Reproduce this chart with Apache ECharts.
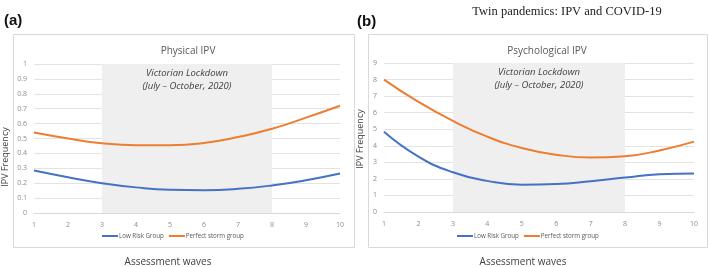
<!DOCTYPE html>
<html>
<head>
<meta charset="utf-8">
<script src="https://cdn.jsdelivr.net/npm/echarts@6/dist/echarts.min.js"></script>
<style>
  html, body { margin: 0; padding: 0; background: #fff; }
  #main { width: 709px; height: 267px; }
</style>
</head>
<body>
<div id="main"></div>
<script>
var waves = ['1', '2', '3', '4', '5', '6', '7', '8', '9', '10'];
var seriesNames = ['Low Risk Group', 'Perfect storm group'];

// (a) Physical IPV
var physLow = [0.285, 0.24, 0.20, 0.172, 0.156, 0.153, 0.162, 0.185, 0.22, 0.265];
var physStorm = [0.54, 0.50, 0.468, 0.455, 0.455, 0.47, 0.51, 0.565, 0.64, 0.72];

// (b) Psychological IPV
var psyLow = [4.85, 3.35, 2.4, 1.88, 1.65, 1.69, 1.86, 2.08, 2.28, 2.32];
var psyStorm = [8.0, 6.65, 5.5, 4.55, 3.87, 3.46, 3.29, 3.37, 3.72, 4.25];

var lockFrom = '3';
var lockTo = '8';
var lockText = 'Victorian Lockdown\n(July \u2013 October, 2020)';

var blue = '#4472c4';
var orange = '#ed7d31';
var gridColor = '#e3e3e3';
var labelColor = '#8c8c8c';

var chart = echarts.init(document.getElementById('main'));

function makeX(idx) {
    return {
        type: 'category',
        gridIndex: idx,
        data: waves,
        boundaryGap: false,
        axisLine: { lineStyle: { color: '#d9d9d9' } },
        axisTick: { show: false },
        axisLabel: { color: labelColor, fontSize: 7, margin: 8, fontFamily: 'Open Sans' },
        splitLine: { show: false }
    };
}

function makeY(idx, max, step) {
    return {
        type: 'value',
        gridIndex: idx,
        min: 0,
        max: max,
        interval: step,
        axisLine: { show: false },
        axisTick: { show: false },
        axisLabel: { color: labelColor, fontSize: 7, margin: 7, fontFamily: 'Open Sans' },
        splitLine: { lineStyle: { color: gridColor, width: 1 } }
    };
}

function makeLine(name, idx, data, color, withBand) {
    var s = {
        name: name,
        type: 'line',
        xAxisIndex: idx,
        yAxisIndex: idx,
        data: data,
        smooth: 0.5,
        showSymbol: false,
        lineStyle: { color: color, width: 2 },
        itemStyle: { color: color },
        z: 3
    };
    if (withBand) {
        s.markArea = {
            silent: true,
            itemStyle: { color: '#efefef' },
            label: {
                show: true,
                position: 'insideTop',
                distance: 3,
                formatter: lockText,
                fontStyle: 'italic',
                fontSize: 9.5,
                lineHeight: 13,
                color: '#404040',
                fontFamily: 'Open Sans'
            },
            data: [[{ xAxis: lockFrom }, { xAxis: lockTo }]]
        };
    }
    return s;
}

function makeLegend(left) {
    return {
        left: left,
        top: 233,
        padding: 0,
        data: seriesNames,
        icon: 'rect',
        itemWidth: 16,
        itemHeight: 2,
        itemGap: 5,
        textStyle: { fontSize: 6.2, color: '#595959', padding: [0, 0, 0, -4], fontFamily: 'Open Sans' }
    };
}

var option = {
    animation: false,
    title: [
        { text: 'Physical IPV', left: 183, top: 41, textAlign: 'center',
          textStyle: { fontSize: 10, fontWeight: 'normal', color: '#595959', fontFamily: 'Open Sans' } },
        { text: 'Psychological IPV', left: 542, top: 41, textAlign: 'center',
          textStyle: { fontSize: 10, fontWeight: 'normal', color: '#595959', fontFamily: 'Open Sans' } }
    ],
    legend: [makeLegend(102), makeLegend(457)],
    grid: [
        { left: 34, right: 369, top: 64, bottom: 54 },
        { left: 384, right: 15, top: 63, bottom: 55 }
    ],
    xAxis: [makeX(0), makeX(1)],
    yAxis: [makeY(0, 1, 0.1), makeY(1, 9, 1)],
    series: [
        makeLine(seriesNames[0], 0, physLow, blue, true),
        makeLine(seriesNames[1], 0, physStorm, orange, false),
        makeLine(seriesNames[0], 1, psyLow, blue, true),
        makeLine(seriesNames[1], 1, psyStorm, orange, false)
    ],
    graphic: [
        { type: 'rect', shape: { x: 13.5, y: 34.5, width: 341, height: 213 },
          style: { fill: 'none', stroke: '#d9d9d9', lineWidth: 1 }, z: -10 },
        { type: 'rect', shape: { x: 368.5, y: 34.5, width: 339, height: 213 },
          style: { fill: 'none', stroke: '#d9d9d9', lineWidth: 1 }, z: -10 },
        { type: 'text', x: 4, y: 21,
          style: { text: '(a)', fontSize: 15, fontWeight: 'bold', fill: '#111', fontFamily: 'Liberation Sans',
                   textVerticalAlign: 'middle' } },
        { type: 'text', x: 357, y: 22,
          style: { text: '(b)', fontSize: 15, fontWeight: 'bold', fill: '#111', fontFamily: 'Liberation Sans',
                   textVerticalAlign: 'middle' } },
        { type: 'text', x: 567, y: 12,
          style: { text: 'Twin pandemics: IPV and COVID-19', fontSize: 12.5, fill: '#222',
                   fontFamily: 'Liberation Serif', textAlign: 'center', textVerticalAlign: 'middle' } },
        { type: 'text', x: 5, y: 157, rotation: Math.PI / 2,
          style: { text: 'IPV Frequency', fontSize: 9, fill: '#404040', fontFamily: 'Open Sans',
                   textAlign: 'center', textVerticalAlign: 'middle' } },
        { type: 'text', x: 360, y: 139, rotation: Math.PI / 2,
          style: { text: 'IPV Frequency', fontSize: 9, fill: '#404040', fontFamily: 'Open Sans',
                   textAlign: 'center', textVerticalAlign: 'middle' } },
        { type: 'text', x: 168, y: 262,
          style: { text: 'Assessment waves', fontSize: 10, fill: '#404040', fontFamily: 'Open Sans',
                   textAlign: 'center', textVerticalAlign: 'middle' } },
        { type: 'text', x: 523, y: 262,
          style: { text: 'Assessment waves', fontSize: 10, fill: '#404040', fontFamily: 'Open Sans',
                   textAlign: 'center', textVerticalAlign: 'middle' } }
    ]
};

chart.setOption(option);
</script>
</body>
</html>
